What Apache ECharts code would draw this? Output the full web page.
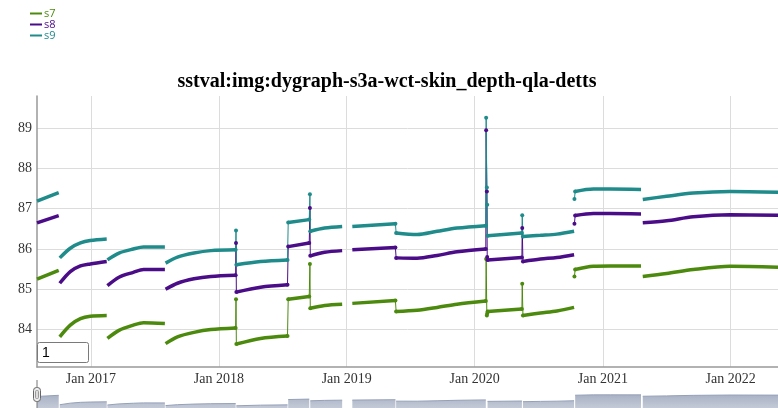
<!DOCTYPE html>
<html>
<head>
<meta charset="utf-8">
<script src="https://cdn.jsdelivr.net/npm/echarts@6/dist/echarts.min.js"></script>
<style>
  html, body { margin: 0; padding: 0; background: #fff; }
  #chart { width: 778px; height: 408px; }
</style>
</head>
<body>
<div id="chart"></div>
<script>
// segment points (null = gap between segments)
const dates = [
  '2016-07-31', '2016-10-01', '2016-10-02',
  '2016-10-04', '2016-11-03', '2016-12-02', '2016-12-30', '2017-02-15', '2017-02-16',
  '2017-02-17', '2017-03-22', '2017-05-02', '2017-05-31', '2017-07-31', '2017-08-01',
  '2017-08-02', '2017-09-05', '2017-10-22', '2017-12-09', '2018-02-18', '2018-02-19',
  '2018-02-20', '2018-04-30', '2018-07-16', '2018-07-17',
  '2018-07-18', '2018-09-16', '2018-09-17',
  '2018-09-19', '2018-10-30', '2018-12-19', '2019-01-01',
  '2019-01-17', '2019-05-20', '2019-05-21',
  '2019-05-22', '2019-07-21', '2019-09-16', '2019-11-12', '2020-02-02', '2020-02-04',
  '2020-02-07', '2020-05-15', '2020-05-16',
  '2020-05-18', '2020-07-07', '2020-08-23', '2020-10-11', '2020-10-12',
  '2020-10-14', '2020-12-05', '2021-01-22', '2021-04-20', '2021-04-22',
  '2021-04-25', '2021-07-02', '2021-09-16', '2021-12-30', '2022-05-16'
];
const s7 = [
  85.25, 85.47, null,
  83.82, 84.11, 84.27, 84.33, 84.35, null,
  83.78, 83.98, 84.11, 84.17, 84.15, null,
  83.65, 83.82, 83.93, 84.00, 84.04, null,
  83.64, 83.78, 83.84, null,
  84.75, 84.82, null,
  84.53, 84.60, 84.63, null,
  84.65, 84.72, null,
  84.45, 84.48, 84.55, 84.63, 84.71, null,
  84.45, 84.51, null,
  84.35, 84.41, 84.46, 84.55, null,
  85.49, 85.57, 85.58, 85.58, null,
  85.32, 85.39, 85.49, 85.57, 85.55
];
const s8 = [
  86.65, 86.83, null,
  85.15, 85.44, 85.58, 85.63, 85.69, null,
  85.09, 85.30, 85.42, 85.49, 85.49, null,
  85.00, 85.15, 85.26, 85.32, 85.35, null,
  84.93, 85.05, 85.11, null,
  86.06, 86.15, null,
  85.83, 85.92, 85.96, null,
  85.98, 86.04, null,
  85.78, 85.77, 85.84, 85.93, 86.00, null,
  85.73, 85.79, null,
  85.69, 85.75, 85.79, 85.86, null,
  86.83, 86.88, 86.88, 86.87, null,
  86.65, 86.70, 86.80, 86.85, 86.84
];
const s9 = [
  87.19, 87.40, null,
  85.78, 86.02, 86.15, 86.21, 86.25, null,
  85.73, 85.90, 86.00, 86.05, 86.05, null,
  85.65, 85.80, 85.90, 85.96, 85.98, null,
  85.61, 85.69, 85.73, null,
  86.66, 86.73, null,
  86.44, 86.52, 86.56, null,
  86.56, 86.63, null,
  86.40, 86.36, 86.44, 86.52, 86.58, null,
  86.33, 86.40, null,
  86.31, 86.34, 86.37, 86.44, null,
  87.43, 87.49, 87.49, 87.48, null,
  87.23, 87.31, 87.39, 87.43, 87.41
];

// jumps and spikes between segments (thin lines with dots)
const jumpDates = [
  '2018-02-18', '2018-02-19', '2018-02-20', '2018-02-21',
  '2018-07-16', '2018-07-18', '2018-07-19',
  '2018-09-16', '2018-09-18', '2018-09-19', '2018-09-20',
  '2019-05-20', '2019-05-22', '2019-05-23',
  '2020-02-02', '2020-02-03', '2020-02-05', '2020-02-06', '2020-02-07', '2020-02-08',
  '2020-05-15', '2020-05-16', '2020-05-18', '2020-05-19',
  '2020-10-12', '2020-10-14'
];
const j7 = [
  84.04, 84.75, 83.64, null,
  83.84, 84.75, null,
  84.82, 85.63, 84.53, null,
  84.72, 84.45, null,
  84.71, 85.75, 84.35, 84.40, 84.45, null,
  84.51, 85.14, 84.35, null,
  85.32, 85.49
];
const j8 = [
  85.35, 86.15, 84.93, null,
  85.11, 86.06, null,
  86.15, 87.02, 85.83, null,
  86.04, 85.78, null,
  86.00, 88.95, 87.43, 85.80, 85.73, null,
  85.79, 86.52, 85.69, null,
  86.63, 86.83
];
const j9 = [
  85.98, 86.46, 85.61, null,
  85.73, 86.66, null,
  86.73, 87.36, 86.44, null,
  86.63, 86.40, null,
  86.58, 89.26, 87.53, 87.10, 86.33, null,
  86.40, 86.84, 86.31, null,
  87.24, 87.43
];

const names = ['s7', 's8', 's9'];
const colors = ['#4c8a0e', '#4b0c88', '#1f8b8b'];
const MONTHS = ['Jan', 'Feb', 'Mar', 'Apr', 'May', 'Jun', 'Jul', 'Aug', 'Sep', 'Oct', 'Nov', 'Dec'];

const pair = (xs, ys) => xs.map((d, i) => [d, ys[i]]);
const mainVals = [s7, s8, s9];
const jumpVals = [j7, j8, j9];

// range selector shows the mean of the series
const combined = dates.map((d, i) =>
  [d, s7[i] == null ? null : (s7[i] + s8[i] + s9[i]) / 3]);

const chart = echarts.init(document.getElementById('chart'));

const series = [];
names.forEach((n, k) => {
  series.push({
    name: n, type: 'line', xAxisIndex: 0, yAxisIndex: 0,
    data: pair(dates, mainVals[k]),
    showSymbol: false, smooth: 0.3, connectNulls: false,
    lineStyle: { color: colors[k], width: 3.5 },
    itemStyle: { color: colors[k] },
    z: 3
  });
  series.push({
    name: n, type: 'line', xAxisIndex: 0, yAxisIndex: 0,
    data: pair(jumpDates, jumpVals[k]),
    showSymbol: true, symbol: 'circle', symbolSize: 4,
    lineStyle: { color: colors[k], width: 1 },
    itemStyle: { color: colors[k] },
    z: 2
  });
});
series.push({
  name: 'range', type: 'line', xAxisIndex: 1, yAxisIndex: 1,
  data: combined, showSymbol: false, silent: true,
  lineStyle: { color: '#96a1b8', width: 1 },
  areaStyle: {
    origin: 'start', opacity: 1,
    color: {
      type: 'linear', x: 0, y: 0, x2: 0, y2: 1,
      colorStops: [
        { offset: 0, color: '#a9b3c6' },
        { offset: 1, color: '#c3c9d6' }
      ]
    }
  }
});

chart.setOption({
  animation: false,
  title: {
    text: 'sstval:img:dygraph-s3a-wct-skin_depth-qla-detts',
    left: 382, textAlign: 'center', top: 67,
    textStyle: { fontFamily: 'Liberation Serif', fontWeight: 'bold', fontSize: 20, color: '#000' }
  },
  legend: {
    orient: 'vertical', left: 25, top: 3, itemGap: 0,
    itemWidth: 12, itemHeight: 2, icon: 'rect',
    data: names.map((n, k) => ({ name: n, textStyle: { color: colors[k] } })),
    textStyle: { fontSize: 11, fontFamily: 'Open Sans', padding: [0, 0, 0, -3] }
  },
  grid: [
    { left: 37, right: 0, top: 96, bottom: 41 },
    { left: 37, right: 0, top: 386, bottom: 0 }
  ],
  xAxis: [
    {
      type: 'time', gridIndex: 0,
      min: '2016-07-31', max: '2022-05-16', splitNumber: 6,
      axisLine: { lineStyle: { color: '#999', width: 1.5 } },
      axisTick: { show: false },
      axisLabel: {
        fontFamily: 'Liberation Serif', fontSize: 14, color: '#333', margin: 5,
        showMinLabel: false, showMaxLabel: false,
        formatter: (v) => {
          const d = new Date(v);
          return MONTHS[d.getMonth()] + ' ' + d.getFullYear();
        }
      },
      splitLine: { show: true, showMinLine: false, showMaxLine: false, lineStyle: { color: '#dcdcdc', width: 1 } }
    },
    {
      type: 'time', gridIndex: 1,
      min: '2016-07-31', max: '2022-05-16',
      show: false
    }
  ],
  yAxis: [
    {
      type: 'value', gridIndex: 0, min: 83.07, max: 89.8,
      axisLine: { show: true, lineStyle: { color: '#999', width: 1.5 } },
      axisTick: { show: false },
      axisLabel: {
        fontFamily: 'Liberation Serif', fontSize: 14, color: '#333', margin: 5,
        showMinLabel: false, showMaxLabel: false
      },
      splitLine: { show: true, showMinLine: false, showMaxLine: false, lineStyle: { color: '#dcdcdc', width: 1 } }
    },
    {
      type: 'value', gridIndex: 1, min: 84.34, max: 88.2, show: false
    }
  ],
  graphic: [
    {
      type: 'rect', z: 10,
      shape: { x: 37.5, y: 342.5, width: 51, height: 20, r: 2 },
      style: { fill: '#fff', stroke: '#7a7a7a', lineWidth: 1 }
    },
    {
      type: 'text', z: 11, x: 42, y: 353,
      style: { text: '1', font: '14px Arial', fill: '#000', verticalAlign: 'middle' }
    },
    {
      type: 'line', z: 10,
      shape: { x1: 37, y1: 380, x2: 37, y2: 408 },
      style: { stroke: '#777', lineWidth: 1 }
    },
    {
      type: 'rect', z: 11,
      shape: { x: 33.5, y: 387.5, width: 7, height: 14, r: 3 },
      style: { fill: '#eeeeee', stroke: '#666', lineWidth: 1 }
    },
    {
      type: 'rect', z: 12,
      shape: { x: 35.5, y: 390.5, width: 3, height: 8, r: 1 },
      style: { fill: '#dddddd', stroke: '#999', lineWidth: 1 }
    }
  ],
  series: series
});
</script>
</body>
</html>
